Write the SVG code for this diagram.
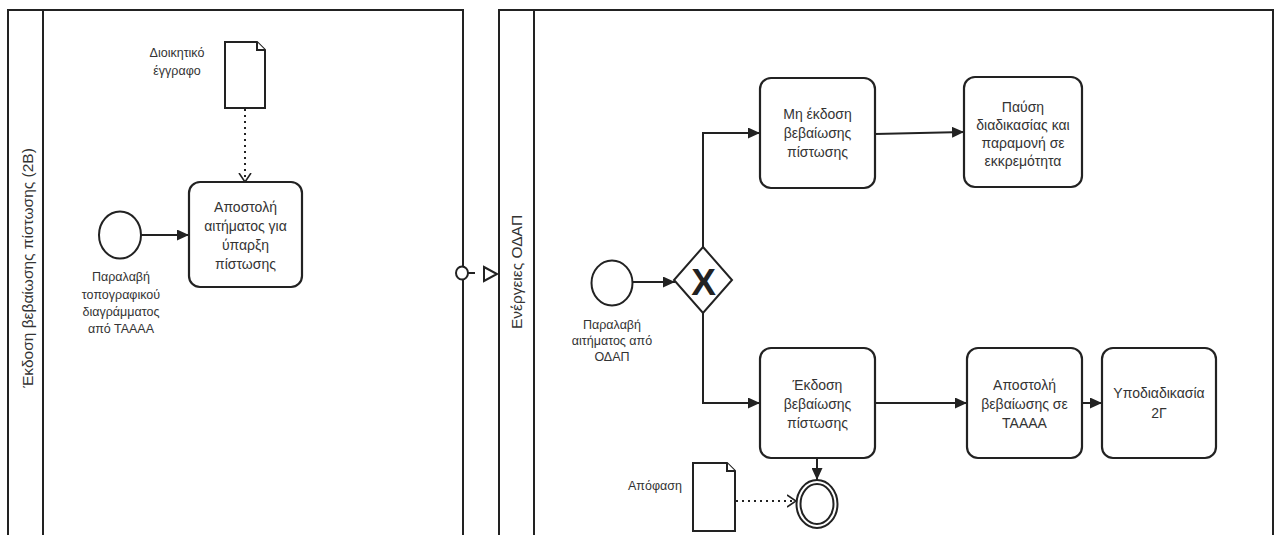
<svg xmlns="http://www.w3.org/2000/svg" width="1278" height="535" viewBox="0 0 1278 535">
<style>
  .pool { fill: #fff; stroke: #222; stroke-width: 2; }
  .task { fill: #fff; stroke: #222; stroke-width: 2.2; }
  .ev { fill: #fff; stroke: #222; stroke-width: 2; }
  .doc { fill: #fff; stroke: #222; stroke-width: 2; }
  .flow { fill: none; stroke: #222; stroke-width: 2; }
  .assoc { fill: none; stroke: #222; stroke-width: 2; stroke-dasharray: 2 4; }
  text { font-family: "Liberation Sans", Arial, sans-serif; fill: #333; text-anchor: middle; }
  .t { font-size: 14px; }
  .l { font-size: 12.5px; }
  .lane { font-size: 15.5px; }
</style>
<defs>
  <marker id="arr" viewBox="0 0 12 11" refX="12" refY="5.5" markerWidth="12" markerHeight="11" markerUnits="userSpaceOnUse" orient="auto">
    <path d="M0,0 L12,5.5 L0,11 z" fill="#222"/>
  </marker>
  <marker id="open" viewBox="0 0 10 14" refX="9" refY="7" markerWidth="10" markerHeight="14" markerUnits="userSpaceOnUse" orient="auto">
    <path d="M0,1 L9,7 L0,13" fill="none" stroke="#222" stroke-width="1.6"/>
  </marker>
</defs>
<rect width="1278" height="535" fill="#fff"/>

<g id="pool-left">
  <rect class="pool" x="8" y="10" width="455" height="540"/>
  <line class="pool" x1="43" y1="10" x2="43" y2="540"/>
  <text class="lane" transform="translate(33,268) rotate(-90)">Έκδοση βεβαίωσης πίστωσης (2Β)</text>
</g>
<g id="pool-right">
  <rect class="pool" x="499" y="10" width="774" height="540"/>
  <line class="pool" x1="534" y1="10" x2="534" y2="540"/>
  <text class="lane" transform="translate(522,272) rotate(-90)">Ενέργειες ΟΔΑΠ</text>
</g>

<g id="connectors">
  <line class="flow" x1="141" y1="235" x2="189" y2="235" marker-end="url(#arr)"/>
  <line class="assoc" x1="245" y1="109" x2="245" y2="182" marker-end="url(#open)"/>
  <line class="flow" x1="633" y1="282" x2="675" y2="282" marker-end="url(#arr)"/>
  <polyline class="flow" points="703,247 703,133 760,133" marker-end="url(#arr)"/>
  <polyline class="flow" points="703,313 703,403 760,403" marker-end="url(#arr)"/>
  <line class="flow" x1="875" y1="134" x2="964" y2="132" marker-end="url(#arr)"/>
  <line class="flow" x1="875" y1="403" x2="967" y2="403" marker-end="url(#arr)"/>
  <line class="flow" x1="1082" y1="403" x2="1102" y2="403" marker-end="url(#arr)"/>
  <line class="flow" x1="817" y1="458" x2="817" y2="480" marker-end="url(#arr)"/>
  <line class="assoc" x1="736" y1="501" x2="796" y2="501" marker-end="url(#open)"/>
  <g id="message-flow">
    <ellipse class="ev" cx="462" cy="273" rx="6" ry="6.5"/>
    <line class="flow" x1="468" y1="273" x2="475" y2="273"/>
    <path d="M484,267 L497,274 L484,281 z" fill="#fff" stroke="#222" stroke-width="2"/>
  </g>
</g>

<g id="doc-dioikitiko">
  <path class="doc" d="M225,42 L257,42 L265,50 L265,108 L225,108 z"/>
  <path class="doc" d="M257,42 L257,50 L265,50" stroke-width="1.5"/>
  <text class="l" x="177" y="57">Διοικητικό</text>
  <text class="l" x="177" y="75">έγγραφο</text>
</g>

<g id="start-left">
  <ellipse class="ev" cx="120" cy="235" rx="21" ry="23.5"/>
  <text class="l" x="121" y="281">Παραλαβή</text>
  <text class="l" x="121" y="299">τοπογραφικού</text>
  <text class="l" x="121" y="316">διαγράμματος</text>
  <text class="l" x="121" y="333">από ΤΑΑΑΑ</text>
</g>

<g id="task-apostoli-aitimatos">
  <rect class="task" x="189" y="182" width="113" height="105" rx="11"/>
  <text class="t" x="245.5" y="212">Αποστολή</text>
  <text class="t" x="245.5" y="231">αιτήματος για</text>
  <text class="t" x="245.5" y="250">ύπαρξη</text>
  <text class="t" x="245.5" y="269">πίστωσης</text>
</g>

<g id="start-right">
  <ellipse class="ev" cx="612" cy="283" rx="20.5" ry="22.5"/>
  <text class="l" x="612" y="329">Παραλαβή</text>
  <text class="l" x="612" y="345">αιτήματος από</text>
  <text class="l" x="612" y="361">ΟΔΑΠ</text>
</g>

<g id="gateway">
  <path class="ev" d="M703,247 L732,280 L703,313 L674,280 z"/>
  <text x="703.5" y="295" style="font-size:37px;font-weight:bold;fill:#222">X</text>
</g>

<g id="task-mi-ekdosi">
  <rect class="task" x="760" y="78" width="115" height="110" rx="11"/>
  <text class="t" x="817.5" y="119">Μη έκδοση</text>
  <text class="t" x="817.5" y="138">βεβαίωσης</text>
  <text class="t" x="817.5" y="157">πίστωσης</text>
</g>

<g id="task-pausi">
  <rect class="task" x="964" y="77" width="118" height="110" rx="11"/>
  <text class="t" x="1023" y="112">Παύση</text>
  <text class="t" x="1023" y="130">διαδικασίας και</text>
  <text class="t" x="1023" y="148">παραμονή σε</text>
  <text class="t" x="1023" y="166">εκκρεμότητα</text>
</g>

<g id="task-ekdosi">
  <rect class="task" x="760" y="348" width="115" height="110" rx="11"/>
  <text class="t" x="817.5" y="390">Έκδοση</text>
  <text class="t" x="817.5" y="409">βεβαίωσης</text>
  <text class="t" x="817.5" y="428">πίστωσης</text>
</g>

<g id="task-apostoli-vevaiosis">
  <rect class="task" x="967" y="348" width="115" height="110" rx="11"/>
  <text class="t" x="1024.5" y="390">Αποστολή</text>
  <text class="t" x="1024.5" y="409">βεβαίωσης σε</text>
  <text class="t" x="1024.5" y="428">ΤΑΑΑΑ</text>
</g>

<g id="task-ypodiadikasia">
  <rect class="task" x="1102" y="348" width="114" height="110" rx="11"/>
  <text class="t" x="1159" y="398">Υποδιαδικασία</text>
  <text class="t" x="1159" y="418">2Γ</text>
</g>

<g id="end-event">
  <ellipse class="ev" cx="817" cy="504" rx="20.5" ry="24"/>
  <ellipse class="ev" cx="817" cy="504" rx="16.5" ry="20" stroke-width="1.5"/>
</g>

<g id="doc-apofasi">
  <path class="doc" d="M693,463 L727,463 L735,471 L735,531 L693,531 z"/>
  <path class="doc" d="M727,463 L727,471 L735,471" stroke-width="1.5"/>
  <text class="l" x="655" y="489.5">Απόφαση</text>
</g>
</svg>
